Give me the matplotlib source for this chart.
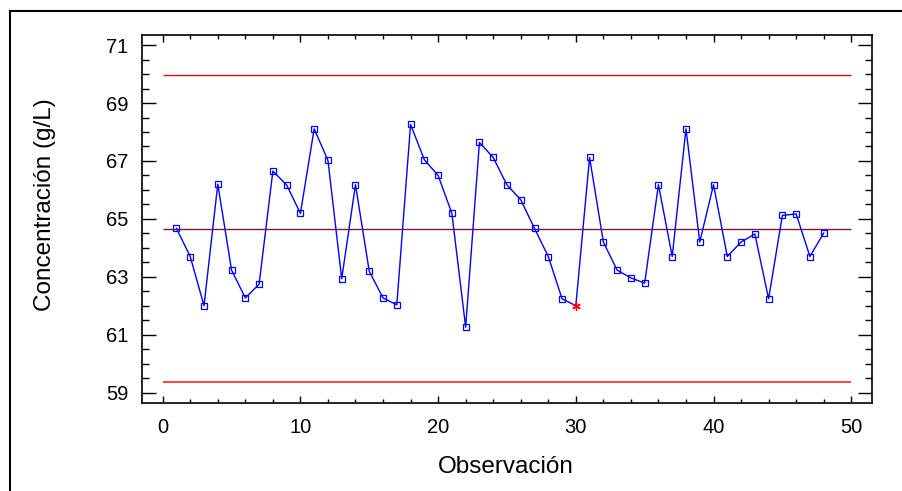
import matplotlib
matplotlib.use("Agg")
import matplotlib.pyplot as plt
from matplotlib.lines import Line2D
from matplotlib.ticker import MultipleLocator

plt.rcParams['font.family'] = ['Liberation Sans', 'DejaVu Sans']

# Observations (g/L)
obs = list(range(1, 49))
conc = [64.67, 63.70, 62.00, 66.20, 63.23, 62.27, 62.74, 66.65, 66.17, 65.19,
        68.11, 67.02, 62.93, 66.18, 63.19, 62.27, 62.03, 68.26, 67.04, 66.50,
        65.19, 61.26, 67.64, 67.12, 66.17, 65.66, 64.67, 63.70, 62.24, 62.00,
        67.12, 64.20, 63.23, 62.96, 62.78, 66.18, 63.70, 68.11, 64.20, 66.18,
        63.70, 64.20, 64.48, 62.24, 65.12, 65.17, 63.70, 64.51]
flagged = [30]

# control limits
ucl = 69.96
center = 64.65
lcl = 59.35

fig = plt.figure(figsize=(9.03, 4.91), dpi=100)
ax = fig.add_axes([0.1573, 0.1792, 0.8087, 0.7501])

ax.hlines(ucl, 0, 50, color='#d01010', lw=1.0)
ax.hlines(center, 0, 50, color='#7a1a3a', lw=1.0)
ax.hlines(lcl, 0, 50, color='#ff3030', lw=1.3)

ax.plot(obs, conc, color='#0000ff', lw=1.0)
normal_x = [o for o in obs if o not in flagged]
normal_y = [c for o, c in zip(obs, conc) if o not in flagged]
ax.plot(normal_x, normal_y, ls='none', marker='s', ms=4.3, mfc='none',
        mec='#0000ff', mew=0.9)
flag_y = [conc[o - 1] for o in flagged]
ax.plot(flagged, flag_y, ls='none', marker=(6, 2, 0), ms=6, mec='red', mew=1.0)

ax.set_xlim(-1.5, 51.53)
ax.set_ylim(58.64, 71.36)
ax.xaxis.set_major_locator(MultipleLocator(10))
ax.xaxis.set_minor_locator(MultipleLocator(2))
ax.yaxis.set_major_locator(MultipleLocator(2))
ax.yaxis.set_minor_locator(MultipleLocator(0.5))
ax.set_yticks([59, 61, 63, 65, 67, 69, 71])

ax.tick_params(axis='both', which='both', direction='in', top=True, right=True,
               width=1.0, color='black', labelsize=14.5)
ax.tick_params(axis='x', which='major', length=5, pad=11)
ax.tick_params(axis='x', which='minor', length=3)
ax.tick_params(axis='y', which='major', length=10, pad=10)
ax.tick_params(axis='y', which='minor', length=5)
for s in ax.spines.values():
    s.set_linewidth(1.2)

fig.text(45 / 903, 1 - 205 / 491, 'Concentración (g/L)', rotation=90,
         ha='center', va='center', fontsize=17.5)
fig.text(506 / 903, 1 - 467 / 491, 'Observación', ha='center', va='center',
         fontsize=17.5)

# outer frame (top and left edges)
fig.add_artist(Line2D([10 / 903, 1], [1 - 10.5 / 491, 1 - 10.5 / 491],
                      transform=fig.transFigure, color='black', lw=1.5))
fig.add_artist(Line2D([10 / 903, 10 / 903], [0, 1 - 10.5 / 491],
                      transform=fig.transFigure, color='black', lw=1.5))

fig.savefig('out.png', dpi=100)
